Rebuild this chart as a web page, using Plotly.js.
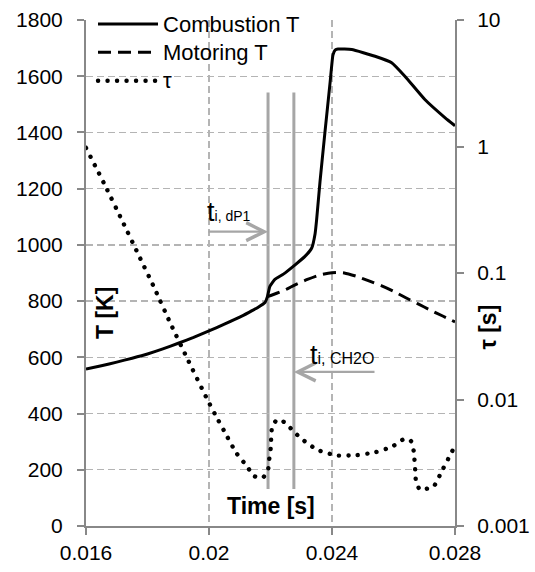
<!DOCTYPE html>
<html>
<head>
<meta charset="utf-8">
<script src="https://cdn.plot.ly/plotly-3.0.1.min.js"></script>
<style>
html,body{margin:0;padding:0;background:#fff;}
#chart{width:535px;height:572px;}
/* tau dash pattern drawn as round dots, as in the reference */
#chart path[style*="4px, 6px"], #chart path[style*="4px,6px"] {
  stroke-linecap: round !important;
  stroke-dasharray: 0.1px 9.4px !important;
  stroke-width: 4.4px !important;
}
</style>
</head>
<body>
<div id="chart"></div>
<script>
// Combustion temperature (solid)
const combTime = [0.0160, 0.0165, 0.0170, 0.0175, 0.0180, 0.0185, 0.0190, 0.0195, 0.0200, 0.0205, 0.0210, 0.0213, 0.0216, 0.02182, 0.02190, 0.02198, 0.02215, 0.02242, 0.02280, 0.02312, 0.02334, 0.02345, 0.02350, 0.02361, 0.02377, 0.02394, 0.02403, 0.02410, 0.02420, 0.02464, 0.02540, 0.02594, 0.02637, 0.02702, 0.02768, 0.02800];
const combT = [558, 570, 583, 597, 612, 630, 650, 671, 694, 718, 743, 760, 778, 795, 816, 852, 878, 896, 929, 959, 989, 1040, 1090, 1225, 1400, 1580, 1675, 1693, 1697, 1695, 1671, 1648, 1600, 1517, 1452, 1424];

// Motoring temperature (dashed)
const motTime = [0.02190, 0.02220, 0.02250, 0.02280, 0.02320, 0.02360, 0.02400, 0.02420, 0.02440, 0.02480, 0.02520, 0.02560, 0.02600, 0.02640, 0.02680, 0.02720, 0.02760, 0.02800];
const motT = [816, 828, 841, 858, 877, 893, 901, 902, 900, 888, 872, 855, 835, 812, 790, 768, 747, 726];

// Ignition delay tau (dotted, right log axis)
const tauTime = [0.016000, 0.016595, 0.017180, 0.017756, 0.018189, 0.018741, 0.019317, 0.019902, 0.020205, 0.020520, 0.020878, 0.021203, 0.021463, 0.021603, 0.021766, 0.021919, 0.021961, 0.022007, 0.022049, 0.022179, 0.022332, 0.022569, 0.022764, 0.022998, 0.023522, 0.024153, 0.024803, 0.025421, 0.025961, 0.026364, 0.026569, 0.026657, 0.026709, 0.026732, 0.026862, 0.027112, 0.027317, 0.027577, 0.027870, 0.028000];
const tau = [0.975, 0.506, 0.258, 0.1315, 0.0793, 0.0402, 0.0205, 0.0105, 0.00757, 0.00548, 0.00381, 0.00303, 0.00249, 0.00240, 0.00243, 0.00278, 0.00340, 0.00413, 0.00600, 0.00679, 0.00691, 0.00623, 0.00555, 0.00491, 0.00400, 0.00361, 0.00363, 0.00384, 0.00425, 0.00489, 0.00469, 0.00391, 0.00269, 0.00225, 0.00193, 0.00198, 0.00207, 0.00273, 0.00374, 0.00430];

// Ignition time markers
const ignitionTimes = [0.02192, 0.02276];
const ignitionLabels = ['i, dP1', 'i, CH2O'];

// Series names
const seriesNames = ['Combustion T', 'Motoring T', '\u03c4'];

// Tick labels
const xTickVals = [0.016, 0.020, 0.024, 0.028];
const xTickText = ['0.016', '0.02', '0.024', '0.028'];
const yTickVals = [0, 200, 400, 600, 800, 1000, 1200, 1400, 1600, 1800];
const y2TickVals = [0.001, 0.01, 0.1, 1, 10];
const y2TickText = ['0.001', '0.01', '0.1', '1', '10'];

const FONT = 'Liberation Sans, Arial, sans-serif';
const AXC = '#888888';
const GRID = '#b4b4b4';
const MARK = '#a6a6a6';
const DOT_DASH = '4px,6px';

function legendName(s) { return '<span style="font-size:22px">' + s + '</span>'; }

const traces = [
  {x: combTime, y: combT, name: legendName(seriesNames[0]), type: 'scatter', mode: 'lines',
   line: {color: '#000', width: 3, shape: 'spline', smoothing: 0.4}},
  {x: motTime, y: motT, name: legendName(seriesNames[1]), type: 'scatter', mode: 'lines',
   line: {color: '#000', width: 3, dash: '13px,7px', shape: 'spline', smoothing: 0.6}},
  {x: tauTime, y: tau, name: legendName(seriesNames[2]), type: 'scatter', mode: 'lines', yaxis: 'y2',
   line: {color: '#000', width: 4, dash: DOT_DASH, shape: 'spline', smoothing: 0.5}}
];

const axisCommon = {
  showline: true, linecolor: AXC, linewidth: 2,
  ticks: 'outside', ticklen: 7, tickwidth: 2, tickcolor: AXC,
  tickfont: {family: FONT, size: 21, color: '#000'},
  zeroline: false
};

const layout = {
  width: 535, height: 572,
  margin: {l: 86, r: 80, t: 20, b: 46, autoexpand: false},
  paper_bgcolor: '#fff', plot_bgcolor: '#fff',
  font: {family: FONT, color: '#000'},
  showlegend: true,
  legend: {x: 0.019, y: 1.03, xanchor: 'left', yanchor: 'top', bgcolor: 'rgba(0,0,0,0)',
           font: {family: FONT, size: 19.5, color: '#000'}, itemwidth: 60, tracegroupgap: 0},
  xaxis: Object.assign({}, axisCommon, {
    range: [0.016, 0.028], tickvals: xTickVals, ticktext: xTickText,
    showgrid: true, gridcolor: GRID, gridwidth: 1.3, griddash: '7px,4px'
  }),
  yaxis: Object.assign({}, axisCommon, {
    range: [0, 1800], tickvals: yTickVals,
    showgrid: true, gridcolor: GRID, gridwidth: 1.3, griddash: '7px,4px',
    ticklabelstandoff: 10
  }),
  yaxis2: Object.assign({}, axisCommon, {
    overlaying: 'y', side: 'right', type: 'log', range: [-3, 1],
    tickvals: y2TickVals, ticktext: y2TickText, showgrid: false,
    ticklabelstandoff: 9
  }),
  shapes: [
    {type: 'rect', xref: 'paper', yref: 'paper', x0: 0.004, x1: 0.6206, y0: 0.852, y1: 1.01,
     fillcolor: '#fff', line: {width: 0}, layer: 'between'},
    {type: 'line', xref: 'x', yref: 'y', x0: ignitionTimes[0], x1: ignitionTimes[0], y0: 132, y1: 1542,
     line: {color: MARK, width: 3}, layer: 'below'},
    {type: 'line', xref: 'x', yref: 'y', x0: ignitionTimes[1], x1: ignitionTimes[1], y0: 132, y1: 1542,
     line: {color: MARK, width: 3}, layer: 'below'}
  ],
  annotations: [
    {x: ignitionTimes[0], y: 1047, ax: 0.019935, ay: 1047, axref: 'x', ayref: 'y', xref: 'x', yref: 'y',
     showarrow: true, arrowhead: 5, arrowsize: 1.6, arrowwidth: 2.2, arrowcolor: MARK, text: ''},
    {x: ignitionTimes[1], y: 548, ax: 0.025431, ay: 548, axref: 'x', ayref: 'y', xref: 'x', yref: 'y',
     showarrow: true, arrowhead: 5, arrowsize: 1.6, arrowwidth: 2.2, arrowcolor: MARK, text: ''},
    {x: 0.01987, y: 1118, xref: 'x', yref: 'y', xanchor: 'left', yanchor: 'middle', showarrow: false,
     text: 't<span style="font-size:14px">' + ignitionLabels[0] + '</span>', font: {family: FONT, size: 27, color: '#000'}},
    {x: 0.02322, y: 609, xref: 'x', yref: 'y', xanchor: 'left', yanchor: 'middle', showarrow: false,
     text: 't<span style="font-size:16px">' + ignitionLabels[1] + '</span>', font: {family: FONT, size: 27, color: '#000'}},
    {x: 0.0515, y: 0.421, xref: 'paper', yref: 'paper', xanchor: 'center', yanchor: 'middle', showarrow: false, textangle: -90,
     text: 'T [K]', font: {family: FONT, size: 23, color: '#000', weight: 'bold'}},
    {x: 0.501, y: 0.0395, xref: 'paper', yref: 'paper', xanchor: 'center', yanchor: 'middle', showarrow: false,
     text: 'Time [s]', font: {family: FONT, size: 23, color: '#000', weight: 'bold'}},
    {x: 1.089, y: 0.394, xref: 'paper', yref: 'paper', xanchor: 'center', yanchor: 'middle', showarrow: false, textangle: -90,
     text: '\u03c4 [s]', font: {family: FONT, size: 23, color: '#000', weight: 'bold'}}
  ]
};

Plotly.newPlot('chart', traces, layout, {displayModeBar: false, staticPlot: true});
</script>
</body>
</html>
